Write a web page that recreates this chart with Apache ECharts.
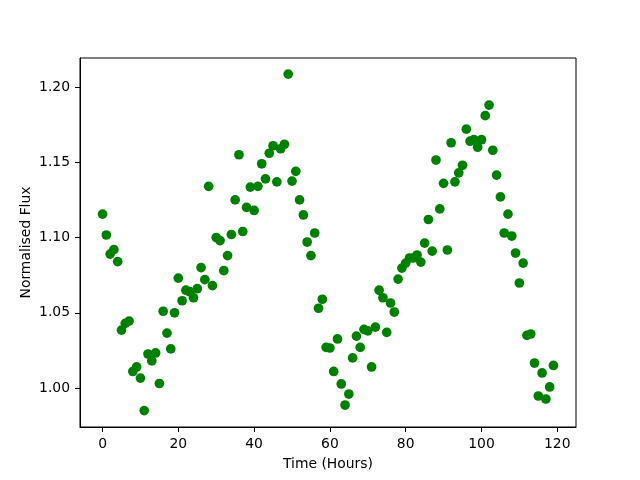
<!DOCTYPE html>
<html>
<head>
<meta charset="utf-8">
<script src="https://cdn.jsdelivr.net/npm/echarts@6/dist/echarts.min.js"></script>
<style>
  html, body { margin: 0; padding: 0; background: #fff; }
  #chart { width: 640px; height: 480px; }
</style>
</head>
<body>
<div id="chart"></div>
<script>
// time in hours, one reading per hour
const hours = Array.from({ length: 120 }, (_, i) => i);

// normalised flux
const flux = [
  1.1156, 1.1017, 1.089, 1.092, 1.084, 1.0385, 1.043, 1.0445, 1.011, 1.014,
  1.0066, 0.985, 1.0226, 1.018, 1.0233, 1.003, 1.051, 1.0365, 1.026, 1.050,
  1.073, 1.058, 1.065, 1.064, 1.060, 1.066, 1.080, 1.072, 1.134, 1.068,
  1.100, 1.098, 1.078, 1.088, 1.102, 1.125, 1.155, 1.104, 1.120, 1.1335,
  1.118, 1.134, 1.149, 1.139, 1.156, 1.161, 1.137, 1.159, 1.162, 1.2086,
  1.1375, 1.144, 1.125, 1.115, 1.097, 1.088, 1.103, 1.053, 1.059, 1.027,
  1.0266, 1.011, 1.0326, 1.0027, 0.9887, 0.996, 1.020, 1.0345, 1.027, 1.039,
  1.038, 1.014, 1.0405, 1.065, 1.060, 1.037, 1.0565, 1.0505, 1.0724, 1.0797,
  1.083, 1.0864, 1.0864, 1.0884, 1.0837, 1.0963, 1.112, 1.091, 1.1515, 1.119,
  1.136, 1.0917, 1.163, 1.137, 1.143, 1.148, 1.172, 1.164, 1.165, 1.160,
  1.165, 1.181, 1.188, 1.158, 1.1415, 1.127, 1.103, 1.1156, 1.101, 1.0897,
  1.0698, 1.083, 1.035, 1.0359, 1.0166, 0.9947, 1.010, 0.9927, 1.0007, 1.015
];

const xTicks = [0, 20, 40, 60, 80, 100, 120];
const yTicks = [1.00, 1.05, 1.10, 1.15, 1.20];

const chart = echarts.init(document.getElementById('chart'));

const font = 'DejaVu Sans';

chart.setOption({
  animation: false,
  backgroundColor: '#fff',
  textStyle: { fontFamily: font },
  grid: {
    left: 80, right: 64, top: 58, bottom: 53,
    show: true, borderColor: '#000', borderWidth: 1, backgroundColor: 'transparent'
  },
  xAxis: {
    type: 'value',
    min: -5.95,
    max: 124.95,
    name: 'Time (Hours)',
    nameLocation: 'middle',
    nameGap: 30,
    nameTextStyle: { color: '#000', fontSize: 13.9, fontFamily: font },
    axisLine: { show: true, onZero: false, lineStyle: { color: '#000', width: 1 } },
    axisTick: { show: true, inside: false, length: 5, lineStyle: { color: '#000' }, customValues: xTicks },
    axisLabel: { color: '#000', fontSize: 13.9, margin: 10, fontFamily: font, customValues: xTicks },
    splitLine: { show: false }
  },
  yAxis: {
    type: 'value',
    min: 0.9741,
    max: 1.2193,
    name: 'Normalised Flux',
    nameLocation: 'middle',
    nameGap: 47,
    nameMoveOverlap: false,
    nameRotate: 90,
    nameTextStyle: { color: '#000', fontSize: 13.9, fontFamily: font },
    axisLine: { show: true, onZero: false, lineStyle: { color: '#000', width: 1 } },
    axisTick: { show: true, inside: false, length: 5, lineStyle: { color: '#000' }, customValues: yTicks },
    axisLabel: {
      color: '#000', fontSize: 13.9, margin: 10, fontFamily: font, customValues: yTicks,
      formatter: (v) => v.toFixed(2)
    },
    splitLine: { show: false }
  },
  series: [
    {
      type: 'scatter',
      data: hours.map((h, i) => [h, flux[i]]),
      symbol: 'circle',
      symbolSize: 9.7,
      itemStyle: { color: '#008000', opacity: 1 }
    }
  ]
});
</script>
</body>
</html>
